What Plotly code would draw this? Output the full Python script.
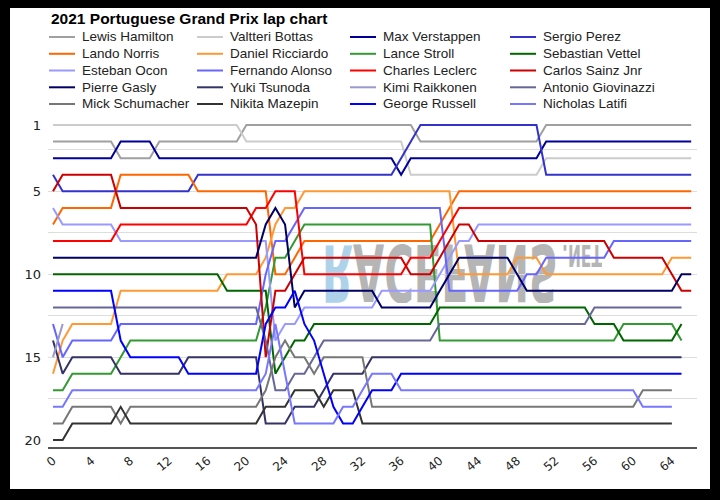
import base64
import plotly.graph_objects as go

LAPS = list(range(67))

DRIVERS = ["Lewis Hamilton", "Valtteri Bottas", "Max Verstappen", "Sergio Perez",
           "Lando Norris", "Daniel Ricciardo", "Lance Stroll", "Sebastian Vettel",
           "Esteban Ocon", "Fernando Alonso", "Charles Leclerc", "Carlos Sainz Jnr",
           "Pierre Gasly", "Yuki Tsunoda", "Kimi Raikkonen", "Antonio Giovinazzi",
           "Mick Schumacher", "Nikita Mazepin", "George Russell", "Nicholas Latifi"]

COLORS = ["#a0a0a0", "#cccccc", "#000099", "#3333cc",
          "#ff6600", "#ff9933", "#339933", "#006600",
          "#9999ff", "#6666ff", "#ff0000", "#cc0000",
          "#000066", "#333366", "#9999cc", "#666699",
          "#777777", "#333333", "#0000ff", "#7777ff"]

N = None
HAM = [2,2,2,2,2,2,2,3,3,3, 3,2,2,2,2,2,2,2,2,2, 1,1,1,1,1,1,1,1,1,1,
       1,1,1,1,1,1,1,1,2,2, 2,2,2,2,2,2,2,2,2,2, 2,1,1,1,1,1,1,1,1,1, 1,1,1,1,1,1,1]
BOT = [1,1,1,1,1,1,1,1,1,1, 1,1,1,1,1,1,1,1,1,1, 2,2,2,2,2,2,2,2,2,2,
       2,2,2,2,2,2,2,4,4,4, 4,4,4,4,4,4,4,4,4,4, 4,3,3,3,3,3,3,3,3,3, 3,3,3,3,3,3,3]
VER = [3,3,3,3,3,3,3,2,2,2, 2,3,3,3,3,3,3,3,3,3, 3,3,3,3,3,3,3,3,3,3,
       3,3,3,3,3,3,4,3,3,3, 3,3,3,3,3,3,3,3,3,3, 3,2,2,2,2,2,2,2,2,2, 2,2,2,2,2,2,2]
PER = [4,5,5,5,5,5,5,5,5,5, 5,5,5,5,5,4,4,4,4,4, 4,4,4,4,4,4,4,4,4,4,
       4,4,4,4,4,4,3,2,1,1, 1,1,1,1,1,1,1,1,1,1, 1,4,4,4,4,4,4,4,4,4, 4,4,4,4,4,4,4]
NOR = [7,6,6,6,6,6,6,4,4,4, 4,4,4,4,4,5,5,5,5,5, 5,5,5,10,10,9,8,8,8,8,
       8,8,8,8,8,8,8,8,8,8, 7,6,5,5,5,5,5,5,5,5, 5,5,5,5,5,5,5,5,5,5, 5,5,5,5,5,5,5]
RIC = [16,14,13,13,13,13,13,11,11,11, 11,11,11,11,11,11,11,11,10,10, 10,10,9,7,6,6,5,5,5,5,
       5,5,5,5,5,5,5,5,5,5, 5,5,10,10,10,10,10,10,9,9, 9,10,10,10,10,10,10,10,10,10,
       10,10,10,10,9,9,9]
STR = [17,17,16,16,16,16,16,15,14,14, 14,14,14,14,14,14,14,14,14,14, 14,14,12,9,9,8,7,7,7,7,
       7,7,7,7,7,7,7,7,7,7, 14,14,14,14,14,14,14,14,14,14, 14,14,14,14,14,14,14,14,14,13,
       13,13,13,13,13,14,N]
VET = [10,10,10,10,10,10,10,10,10,10, 10,10,10,10,10,10,10,10,11,11, 11,11,11,16,15,14,14,13,13,13,
       13,13,13,13,13,13,13,13,13,13, 12,12,12,12,12,12,12,12,12,12, 12,12,12,12,12,12,13,13,13,14,
       14,14,14,14,14,13,N]
OCO = [6,7,7,7,7,7,7,8,8,8, 8,8,8,8,8,8,8,8,8,8, 8,8,8,14,13,13,12,12,12,12,
       12,12,12,12,11,11,11,11,11,11, 10,9,8,8,7,7,7,7,7,7, 7,7,7,7,7,7,7,7,7,7, 7,7,7,7,7,7,7]
ALO = [13,15,14,14,14,14,14,13,13,13, 13,13,13,13,13,13,13,13,13,13, 13,13,10,8,8,7,6,6,6,6,
       6,6,6,6,6,6,6,6,6,6, 6,11,11,11,11,11,11,11,11,10, 10,9,9,9,9,9,9,9,8,8,
       8,8,8,8,8,8,8]
LEC = [8,8,8,8,8,8,8,7,7,7, 7,7,7,7,7,7,7,7,7,7, 7,6,6,5,5,5,10,10,10,10,
       10,10,10,10,10,10,10,9,9,9, 8,7,6,6,6,6,6,6,6,6, 6,6,6,6,6,6,6,6,6,6, 6,6,6,6,6,6,6]
SAI = [5,4,4,4,4,4,4,6,6,6, 6,6,6,6,6,6,6,6,6,6, 6,7,15,11,11,10,9,9,9,9,
       9,9,9,9,9,9,9,10,10,10, 9,8,7,7,8,8,8,8,8,8, 8,8,8,8,8,8,8,8,9,9,
       9,9,9,9,10,11,11]
GAS = [9,9,9,9,9,9,9,9,9,9, 9,9,9,9,9,9,9,9,9,9, 9,9,7,6,7,12,11,11,11,11,
       11,11,11,11,12,12,12,12,12,12, 11,10,9,9,9,9,9,9,10,11, 11,11,11,11,11,11,11,11,11,11,
       11,11,11,11,11,10,10]
TSU = [14,16,15,15,15,15,15,16,16,16, 16,16,16,16,15,15,15,15,15,15, 15,15,19,19,19,18,18,18,17,16,
       16,16,16,15,15,15,15,15,15,15, 15,15,15,15,15,15,15,15,15,15, 15,15,15,15,15,15,15,15,15,15,
       15,15,15,15,15,15,N]
RAI = [15,13] + [N] * 65
GIO = [12,12,12,12,12,12,12,12,12,12, 12,12,12,12,12,12,12,12,12,12, 12,12,14,17,17,16,16,15,14,14,
       14,14,14,14,14,14,14,14,14,14, 13,13,13,13,13,13,13,13,13,13, 13,13,13,13,13,13,12,12,12,12,
       12,12,12,12,12,12,N]
MSC = [19,19,18,18,18,18,18,19,18,18, 18,18,18,18,18,18,18,18,18,18, 18,18,17,15,14,15,15,16,15,15,
       15,15,15,18,18,18,18,18,18,18, 18,18,18,18,18,18,18,18,18,18, 18,18,18,18,18,18,18,18,18,18,
       18,17,17,17,17,N,N]
MAZ = [20,20,19,19,19,19,19,18,19,19, 19,19,19,19,19,19,19,19,19,19, 19,19,18,18,18,17,17,17,18,17,
       17,17,19,19,19,19,19,19,19,19, 19,19,19,19,19,19,19,19,19,19, 19,19,19,19,19,19,19,19,19,19,
       19,19,19,19,19,N,N]
RUS = [11,11,11,11,11,11,11,14,15,15, 15,15,15,15,16,16,16,16,16,16, 16,16,13,12,12,11,13,14,16,18,
       19,19,18,17,17,17,16,16,16,16, 16,16,16,16,16,16,16,16,16,16, 16,16,16,16,16,16,16,16,16,16,
       16,16,16,16,16,16,N]
LAT = [18,18,17,17,17,17,17,17,17,17, 17,17,17,17,17,17,17,17,17,17, 17,17,16,13,16,19,19,19,19,19,
       18,18,17,16,16,16,17,17,17,17, 17,17,17,17,17,17,17,17,17,17, 17,17,17,17,17,17,17,17,17,17,
       17,18,18,18,18,N,N]

POSITIONS = [HAM, BOT, VER, PER, NOR, RIC, STR, VET, OCO, ALO,
             LEC, SAI, GAS, TSU, RAI, GIO, MSC, MAZ, RUS, LAT]

X_TICKS = list(range(0, 65, 4))
Y_TICKS = [1, 5, 10, 15, 20]
Y_GRID = [2.5, 5, 7.5, 10, 12.5, 15, 17.5]

TITLE = "2021 Portuguese Grand Prix lap chart"
FONT = "DejaVu Sans"
TXT_FONT = "Liberation Sans"

W, H = 720, 500
ML, MR, MT, MB = 48, 23, 118, 53
PW, PH = W - ML - MR, H - MT - MB


def pxx(x):
    return (x - ML) / PW


def pxy(y):
    return 1 - (y - MT) / PH


fig = go.Figure()
for name, color, pos in zip(DRIVERS, COLORS, POSITIONS):
    fig.add_trace(go.Scatter(x=LAPS, y=pos, mode="lines", name=name,
                             line=dict(color=color, width=2),
                             showlegend=False, hoverinfo="skip"))

# black frame around the white card
shapes = []
for (a, b, c, d) in [(0, 10, 0, 500), (710, 720, 0, 500), (0, 720, 0, 8), (0, 720, 489, 500)]:
    shapes.append(dict(type="rect", xref="paper", yref="paper", layer="above",
                       x0=pxx(a), x1=pxx(b), y0=pxy(d), y1=pxy(c),
                       fillcolor="black", line=dict(width=0)))

annotations = [dict(text="<b>" + TITLE + "</b>", xref="paper", yref="paper",
                    x=pxx(49), y=pxy(19), xanchor="left", yanchor="middle",
                    showarrow=False, font=dict(family=TXT_FONT, size=15.5, color="#000"))]

COL_X = [49, 197, 350, 510]
ROW_Y = [37, 53.8, 70.5, 87.3, 104]
for i, (name, color) in enumerate(zip(DRIVERS, COLORS)):
    r, c = divmod(i, 4)
    x0 = COL_X[c]
    y = ROW_Y[r]
    shapes.append(dict(type="line", xref="paper", yref="paper",
                       x0=pxx(x0), x1=pxx(x0 + 26), y0=pxy(y), y1=pxy(y),
                       line=dict(color=color, width=2)))
    annotations.append(dict(text=name, xref="paper", yref="paper",
                            x=pxx(x0 + 31), y=pxy(y), xanchor="left", yanchor="middle",
                            showarrow=False, font=dict(family=TXT_FONT, size=13.5, color="#222")))

# faint background watermark (upside-down, as in the source picture)
WM_SVG = (
    "<svg xmlns='http://www.w3.org/2000/svg' width='280' height='60' viewBox='0 0 280 60'>"
    "<g transform='translate(0,60) scale(1,-1)'>"
    "<text x='0' y='58' font-family='DejaVu Sans' font-weight='bold' font-size='78' "
    "textLength='236' lengthAdjust='spacingAndGlyphs'>"
    "<tspan fill='#9fcbe6'>R</tspan><tspan fill='#a9a9a9'>ACEFANS</tspan></text>"
    "<text x='240' y='58' font-family='DejaVu Sans' font-weight='bold' font-size='30' "
    "fill='#a9a9a9' textLength='40' lengthAdjust='spacingAndGlyphs'>.NET</text>"
    "</g></svg>")
WM_URI = "data:image/svg+xml;base64," + base64.b64encode(WM_SVG.encode()).decode()

fig.update_layout(
    width=W, height=H,
    margin=dict(l=ML, r=MR, t=MT, b=MB, pad=0),
    paper_bgcolor="white", plot_bgcolor="rgba(0,0,0,0)",
    showlegend=False,
    shapes=shapes, annotations=annotations,
    images=[dict(source=WM_URI, xref="paper", yref="paper",
                 x=pxx(322), y=pxy(243), sizex=280 / PW, sizey=60 / PH,
                 xanchor="left", yanchor="top", sizing="stretch",
                 layer="below", opacity=0.85)],
    font=dict(family=FONT, size=12, color="#222"),
)
fig.update_xaxes(range=[-0.517, 66.6], tickmode="array", tickvals=X_TICKS,
                 tickangle=-40, showgrid=False, zeroline=False,
                 showline=True, linecolor="#555555", linewidth=2,
                 ticks="", tickfont=dict(size=12, color="#222"))
fig.update_yaxes(range=[20.42, 0.578], tickmode="array", tickvals=Y_TICKS,
                 showgrid=False, zeroline=False, ticks="",
                 ticklabelstandoff=6,
                 minor=dict(tickmode="array", tickvals=Y_GRID, showgrid=True,
                            gridcolor="#dddddd", gridwidth=1),
                 tickfont=dict(size=13, color="#222"))

fig.write_html("out.html", config={"displayModeBar": False},
               post_script="document.body.style.margin='0';"
                           "document.body.style.background='black';"
                           "document.body.style.overflow='hidden';")
